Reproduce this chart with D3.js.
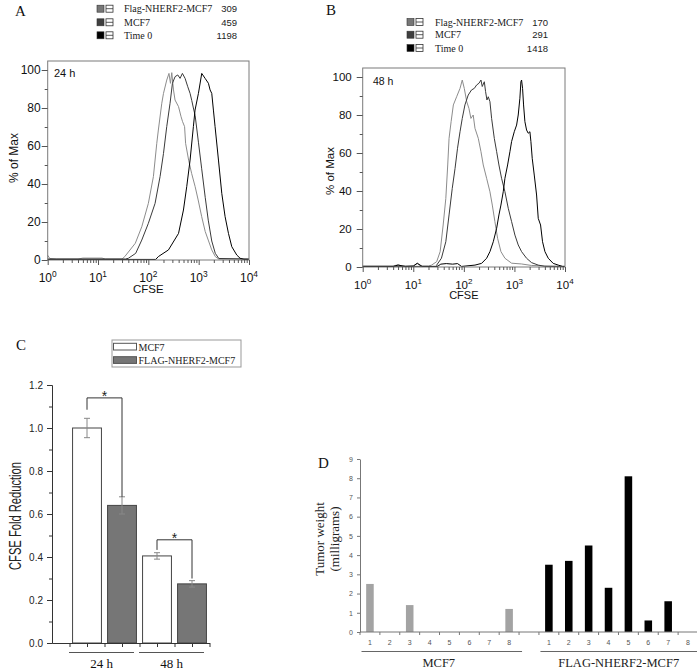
<!DOCTYPE html>
<html><head><meta charset="utf-8">
<script src="https://cdn.jsdelivr.net/npm/d3@7"></script>
<style>body{margin:0;background:#fff}svg{display:block}</style>
</head><body>
<svg id="fig" width="697" height="669"></svg>
<script>
// ---------------- DATA ----------------
const histSeries = ["Flag-NHERF2-MCF7", "MCF7", "Time 0"];
const medians24 = ["309", "459", "1198"];
const medians48 = ["170", "291", "1418"];
const decadeTicks = [1, 10, 100, 1000, 10000];
const decadeExp = ["0", "1", "2", "3", "4"];
const pctTicks = [0, 20, 40, 60, 80, 100];

// [CFSE intensity, % of Max]
const flag24 = [[1,2.5],[1.1,0.8],[1.5,0.5],[4,0.5],[5,1],[12,1],[14,0.5],[30,0.5],[34,1.8],[55,8.8],[74,17.5],[100,29.8],[126,43.9],[147,61.4],[158,68.4],[185,82.5],[200,87.7],[232,94.7],[257,98.2],[275,93],[292,98.6],[316,89.5],[339,84.2],[398,80.7],[447,75.4],[479,72.8],[525,70.2],[550,61.4],[631,52.6],[724,45.6],[851,38.6],[977,31.6],[1148,22.8],[1349,15],[1549,10.5],[1820,5.3],[2138,1.8],[2512,0.5],[10000,0.5]];
const mcf724 = [[1,0.5],[35,0.5],[40,0.9],[56,3.5],[74,10.5],[100,19.3],[136,29.8],[171,43.9],[200,56.1],[232,70.2],[270,82.5],[301,93],[340,96.5],[384,97.4],[427,95.6],[475,98.2],[537,95.6],[607,91.2],[675,87.7],[728,84],[785,80],[851,76],[989,62],[1148,48],[1349,33],[1549,21],[1820,10],[2138,3.5],[2512,0.8],[10000,0.5]];
const time024 = [[1,0.3],[140,0.3],[158,1.8],[251,5.3],[398,14],[498,26.3],[579,38.6],[675,52.6],[785,70.2],[847,78.9],[989,87.7],[1151,98.2],[1343,95.6],[1563,93],[1687,89.5],[1820,87.7],[1963,78.9],[2118,70.2],[2472,52.6],[2877,35.1],[3350,22.8],[3908,14],[4550,7],[5715,2.6],[6668,0.9],[7943,0.3],[10000,0.3]];

const flag48 = [[1,0.5],[4,0.5],[5,1.2],[6,0.5],[10,0.5],[12,1.8],[14,0.5],[20,0.5],[23,1],[29,2.8],[34,8.1],[39,22.1],[44,36.1],[48,53.7],[51,67.7],[56,76.5],[62,85.3],[72,89.6],[84,94],[93,98.4],[102,94],[114,87],[126,83.5],[138,78.2],[153,80],[166,73],[193,67.7],[218,60.7],[242,53.7],[282,46.7],[328,39.6],[365,32.6],[411,23.9],[465,15.1],[541,8.1],[649,4.6],[879,2],[1380,1.6],[2183,0.8],[10000,0.3]];
const mcf748 = [[1,0.3],[30,0.3],[29,1],[36,4.6],[44,13.3],[51,27.4],[59,41.4],[67,51.9],[75,62.5],[84,71.2],[93,78.2],[105,85.3],[122,90.5],[142,93.2],[161,94],[179,95.8],[199,96.7],[218,98.4],[231,95],[254,97.5],[269,92.3],[286,87.9],[304,89.6],[328,87],[354,78.2],[400,67.7],[445,60.7],[494,53.7],[557,46.7],[649,39.6],[755,30.9],[879,23.9],[1023,16.8],[1189,11.6],[1384,8.1],[1738,4.6],[2183,2.3],[2958,1],[3981,0.3],[10000,0.3]];
const time048 = [[1,0.3],[4,0.3],[5,1],[7,0.3],[10,0.5],[12,2],[15,0.3],[30,0.3],[35,1.5],[45,1.8],[60,1.5],[75,1.8],[90,0.3],[166,1],[224,1.9],[282,4.6],[328,8.1],[382,13.3],[445,20.4],[494,27.4],[541,32.6],[601,39.6],[649,46.7],[733,53.7],[815,60.7],[879,66],[993,71.2],[1104,74.7],[1189,80],[1282,88.8],[1343,97.5],[1384,98.4],[1449,94],[1517,85.3],[1611,76.5],[1738,72.1],[1875,70.4],[2023,71.2],[2118,66],[2249,57.2],[2466,48.4],[2742,37.9],[2958,25.6],[3289,22.1],[3597,13.3],[4009,8.1],[4667,4.6],[5848,1.9],[7345,1],[8913,0.3],[10000,0.3]];

// Panel C
const cTimes = ["24 h", "48 h"];
const cSeries = ["MCF7", "FLAG-NHERF2-MCF7"];
const cMCF7 = [1.0, 0.405];
const cMCF7Err = [0.045, 0.015];
const cFlag = [0.64, 0.275];
const cFlagErr = [0.04, 0.015];
const cYTicks = [0, 0.2, 0.4, 0.6, 0.8, 1.0, 1.2];
const cBracketTop = [1.14, 0.48];
const cBracketLeft = [1.085, 0.433];
const cBracketRight = [0.68, 0.30];

// Panel D
const dGroups = ["MCF7", "FLAG-NHERF2-MCF7"];
const dMice = ["1","2","3","4","5","6","7","8"];
const dMCF7 = [2.5, 0, 1.4, 0, 0, 0, 0, 1.2];
const dFlag = [3.5, 3.7, 4.5, 2.3, 8.1, 0.6, 1.6, 0];
const dYTicks = [0,1,2,3,4,5,6,7,8,9];

// ---------------- DRAW ----------------
const SANS = "'Liberation Sans', Arial, sans-serif";
const SERIF = "'Liberation Serif', 'Times New Roman', serif";
const svg = d3.select("#fig");
const curveColors = ["#8c8c8c", "#3a3a3a", "#000000"];
const swatchColors = ["#777777", "#3f3f3f", "#000000"];

function panelLetter(t, x, y) {
  svg.append("text").attr("x", x).attr("y", y).attr("font-family", SERIF)
    .attr("font-size", 15).attr("fill", "#111").text(t);
}

function drawHist(cfg) {
  const g = svg.append("g");
  const x = d3.scaleLog().domain([1, 10000]).range([cfg.left, cfg.right]);
  const y = d3.scaleLinear().domain([0, 100]).range([cfg.bottom, cfg.y100]);
  const line = d3.line().x(d => x(d[0])).y(d => y(d[1]));
  cfg.series.forEach((s, i) => {
    g.append("path").attr("d", line(s)).attr("fill", "none")
      .attr("stroke", curveColors[i]).attr("stroke-width", 1);
  });
  g.append("rect").attr("x", cfg.left).attr("y", cfg.top)
    .attr("width", cfg.right - cfg.left).attr("height", cfg.bottom - cfg.top)
    .attr("fill", "none").attr("stroke", "#7a7a7a").attr("stroke-width", 1);
  const minor = [];
  for (let d = 0; d < 4; d++) for (let m = 2; m <= 9; m++) minor.push(m * Math.pow(10, d));
  const styleAxis = sel => { sel.select(".domain").remove(); sel.selectAll("line").attr("stroke", "#555"); };
  g.append("g").attr("transform", `translate(0,${cfg.bottom})`)
    .call(d3.axisBottom(x).tickValues(decadeTicks).tickSize(5).tickFormat("")).call(styleAxis);
  g.append("g").attr("transform", `translate(0,${cfg.bottom})`)
    .call(d3.axisBottom(x).tickValues(minor).tickSize(3).tickFormat("")).call(styleAxis);
  decadeTicks.forEach((v, i) => {
    const t = g.append("text").attr("x", x(v)).attr("y", cfg.tickLabelY)
      .attr("text-anchor", "middle").attr("font-family", SANS).attr("font-size", cfg.fs).attr("fill", "#111");
    t.append("tspan").text("10");
    t.append("tspan").attr("dy", -5).attr("font-size", cfg.fs * 0.7).text(decadeExp[i]);
  });
  g.append("text").attr("x", (cfg.left + cfg.right) / 2).attr("y", cfg.cfseY)
    .attr("text-anchor", "middle").attr("font-family", SANS).attr("font-size", cfg.fs - 0.5).attr("fill", "#111").text("CFSE");
  g.append("g").attr("transform", `translate(${cfg.left},0)`)
    .call(d3.axisLeft(y).tickValues(pctTicks).tickSize(6).tickPadding(cfg.yPad).tickFormat(d3.format("d")))
    .call(styleAxis)
    .call(s => s.selectAll("text").attr("font-family", SANS).attr("font-size", cfg.fs).attr("fill", "#111"));
  g.append("g").attr("transform", `translate(${cfg.left},0)`)
    .call(d3.axisLeft(y).tickValues([10, 30, 50, 70, 90]).tickSize(3).tickFormat("")).call(styleAxis);
  g.append("text").attr("transform", `translate(${cfg.yLabX},${cfg.yLabY}) rotate(-90)`)
    .attr("text-anchor", "middle").attr("font-family", SANS).attr("font-size", cfg.fs).attr("fill", "#111").text("% of Max");
  g.append("text").attr("x", cfg.timeX).attr("y", cfg.timeY).attr("font-family", SANS)
    .attr("font-size", cfg.fs - 1).attr("fill", "#111").text(cfg.timeLabel);
  histSeries.forEach((name, i) => {
    const cy = cfg.legRows[i];
    g.append("rect").attr("x", cfg.sw1).attr("y", cy - 3.5).attr("width", 7).attr("height", 7)
      .attr("fill", swatchColors[i]).attr("stroke", "#333").attr("stroke-width", 0.6);
    g.append("rect").attr("x", cfg.sw1 + 9).attr("y", cy - 3.5).attr("width", 7).attr("height", 7)
      .attr("fill", "#fff").attr("stroke", "#333").attr("stroke-width", 0.8);
    g.append("line").attr("x1", cfg.sw1 + 9).attr("x2", cfg.sw1 + 16).attr("y1", cy).attr("y2", cy)
      .attr("stroke", "#333").attr("stroke-width", 0.8);
    g.append("text").attr("x", cfg.textX).attr("y", cy + 3.5).attr("font-family", SERIF)
      .attr("font-size", 10).attr("fill", "#222").text(name);
    g.append("text").attr("x", cfg.numRight).attr("y", cy + 3.5).attr("text-anchor", "end")
      .attr("font-family", SANS).attr("font-size", 9.5).attr("fill", "#222").text(cfg.medians[i]);
  });
}

panelLetter("A", 15, 16);
drawHist({left: 47.7, right: 249, top: 61, bottom: 260, y100: 70, fs: 12, yPad: 1,
  tickLabelY: 281.5, cfseY: 293, yLabX: 18, yLabY: 158, timeX: 54, timeY: 77, timeLabel: "24 h",
  series: [flag24, mcf724, time024], medians: medians24,
  sw1: 97, textX: 124, numRight: 237, legRows: [8.7, 22.3, 35.3]});

panelLetter("B", 326, 15);
drawHist({left: 362.7, right: 565, top: 68, bottom: 267, y100: 77, fs: 11.5, yPad: 5,
  tickLabelY: 288.5, cfseY: 299, yLabX: 334, yLabY: 171, timeX: 373, timeY: 85, timeLabel: "48 h",
  series: [flag48, mcf748, time048], medians: medians48,
  sw1: 407, textX: 435, numRight: 548, legRows: [22, 34.7, 48]});

// ---------- Panel C ----------
panelLetter("C", 16, 350);
{
  const g = svg.append("g");
  const x = d3.scaleLinear().domain([0, 9]).range([52, 209.5]);
  const y = d3.scaleLinear().domain([0, 1.2]).range([643, 385]);
  const barW = 1.65;
  const bars = [];
  cTimes.forEach((t, i) => {
    bars.push({pos: 2 + 4 * i, v: cMCF7[i], e: cMCF7Err[i], fill: "#ffffff"});
    bars.push({pos: 4 + 4 * i, v: cFlag[i], e: cFlagErr[i], fill: "#767676"});
  });
  bars.forEach(b => {
    g.append("rect").attr("x", x(b.pos - barW / 2)).attr("y", y(b.v))
      .attr("width", x(barW) - x(0)).attr("height", y(0) - y(b.v))
      .attr("fill", b.fill).attr("stroke", "#444").attr("stroke-width", 1);
    const cx = x(b.pos);
    g.append("line").attr("x1", cx).attr("x2", cx).attr("y1", y(b.v - b.e)).attr("y2", y(b.v + b.e)).attr("stroke", "#888");
    [b.v - b.e, b.v + b.e].forEach(v => g.append("line").attr("x1", cx - 3).attr("x2", cx + 3)
      .attr("y1", y(v)).attr("y2", y(v)).attr("stroke", "#888"));
  });
  cTimes.forEach((t, i) => {
    const x1 = x(2 + 4 * i), x2 = x(4 + 4 * i);
    g.append("path").attr("d", `M${x1},${y(cBracketLeft[i])}V${y(cBracketTop[i])}H${x2}V${y(cBracketRight[i])}`)
      .attr("fill", "none").attr("stroke", "#333").attr("stroke-width", 1);
    g.append("text").attr("x", (x1 + x2) / 2).attr("y", y(cBracketTop[i]) + 3)
      .attr("text-anchor", "middle").attr("font-family", SANS).attr("font-size", 14).attr("fill", "#222").text("*");
  });
  const styleAxis = sel => { sel.selectAll("line").attr("stroke", "#333"); sel.select(".domain").attr("stroke", "#333"); };
  g.append("g").attr("transform", "translate(52,0)")
    .call(d3.axisLeft(y).tickValues(cYTicks).tickSize(5).tickSizeOuter(0).tickPadding(4).tickFormat(d3.format(".1f")))
    .call(styleAxis)
    .call(s => s.selectAll("text").attr("font-family", SANS).attr("font-size", 10).attr("fill", "#222"));
  g.append("g").attr("transform", "translate(52,0)")
    .call(d3.axisLeft(y).tickValues([0.1, 0.3, 0.5, 0.7, 0.9, 1.1]).tickSize(3).tickSizeOuter(0).tickFormat(""))
    .call(styleAxis);
  g.append("g").attr("transform", "translate(0,643)")
    .call(d3.axisBottom(x).tickValues([1,2,3,4,5,6,7,8,9]).tickSize(4).tickSizeOuter(0).tickFormat(""))
    .call(styleAxis);
  g.append("text").attr("transform", "translate(21,516) rotate(-90)").attr("text-anchor", "middle")
    .attr("font-family", SANS).attr("font-size", 17).attr("fill", "#222")
    .attr("textLength", 108).attr("lengthAdjust", "spacingAndGlyphs").text("CFSE Fold Reduction");
  cTimes.forEach((t, i) => {
    const c = x(3 + 4 * i) - 3;
    g.append("line").attr("x1", c - 32.5).attr("x2", c + 32.5).attr("y1", 652.5).attr("y2", 652.5)
      .attr("stroke", "#555").attr("stroke-width", 1.2);
    g.append("text").attr("x", c).attr("y", 667.5).attr("text-anchor", "middle").attr("font-family", SERIF)
      .attr("font-size", 13).attr("fill", "#111").text(t);
  });
  g.append("rect").attr("x", 112).attr("y", 340).attr("width", 129).attr("height", 27)
    .attr("fill", "#fff").attr("stroke", "#999");
  g.append("rect").attr("x", 113.5).attr("y", 343.3).attr("width", 23).attr("height", 6.7)
    .attr("fill", "#fff").attr("stroke", "#555");
  g.append("rect").attr("x", 113.5).attr("y", 356.7).attr("width", 23).attr("height", 6.7)
    .attr("fill", "#767676").attr("stroke", "#555");
  g.append("text").attr("x", 138.5).attr("y", 350.5).attr("font-family", SERIF).attr("font-size", 10)
    .attr("fill", "#222").text(cSeries[0]);
  g.append("text").attr("x", 138.5).attr("y", 364).attr("font-family", SERIF).attr("font-size", 10)
    .attr("fill", "#222").text(cSeries[1]);
}

// ---------- Panel D ----------
panelLetter("D", 318, 468);
{
  const g = svg.append("g");
  const keys = [];
  dMice.forEach(m => keys.push("M" + m));
  keys.push("gap");
  dMice.forEach(m => keys.push("F" + m));
  const x = d3.scaleBand().domain(keys).range([360, 698]).padding(0);
  const y = d3.scaleLinear().domain([0, 9]).range([632, 459]);
  const bw = x.bandwidth(), barW = bw * 0.38;
  const dataBars = [];
  dMice.forEach((m, i) => {
    dataBars.push({k: "M" + m, v: dMCF7[i], fill: "#a3a3a3"});
    dataBars.push({k: "F" + m, v: dFlag[i], fill: "#000000"});
  });
  g.selectAll("rect.bar").data(dataBars.filter(d => d.v > 0)).join("rect")
    .attr("x", d => x(d.k) + (bw - barW) / 2).attr("y", d => y(d.v))
    .attr("width", barW).attr("height", d => y(0) - y(d.v)).attr("fill", d => d.fill);
  g.append("g").attr("transform", "translate(360,0)")
    .call(d3.axisLeft(y).tickValues(dYTicks).tickSize(3).tickSizeOuter(0).tickPadding(4))
    .call(s => { s.selectAll("line").attr("stroke", "#777"); s.select(".domain").attr("stroke", "#777");
      s.selectAll("text").attr("font-family", SANS).attr("font-size", 7).attr("fill", "#555"); });
  g.append("line").attr("x1", 360).attr("x2", 697).attr("y1", 632).attr("y2", 632).attr("stroke", "#777");
  const bounds = keys.map(k => x(k)).concat([x(keys[keys.length - 1]) + bw]);
  bounds.forEach(b => g.append("line").attr("x1", b).attr("x2", b).attr("y1", 632).attr("y2", 635).attr("stroke", "#777"));
  keys.forEach(k => {
    if (k === "gap") return;
    g.append("text").attr("x", x(k) + bw / 2).attr("y", 645).attr("text-anchor", "middle")
      .attr("font-family", SANS).attr("font-size", 7).attr("fill", "#555").text(k.slice(1));
  });
  [["M1", "M8"], ["F1", "F8"]].forEach((p, i) => {
    const x1 = x(p[0]) + 1.5, x2 = Math.min(697, x(p[1]) + bw + 3);
    g.append("line").attr("x1", x1).attr("x2", x2).attr("y1", 651.5).attr("y2", 651.5).attr("stroke", "#666");
    g.append("text").attr("x", (x1 + x2) / 2 - (i === 0 ? 3 : 0)).attr("y", 667).attr("text-anchor", "middle")
      .attr("font-family", SERIF).attr("font-size", 12.5).attr("fill", "#222").text(dGroups[i]);
  });
  g.append("text").attr("transform", "translate(323.5,539) rotate(-90)").attr("text-anchor", "middle")
    .attr("font-family", SERIF).attr("font-size", 13).attr("fill", "#222").text("Tumor weight");
  g.append("text").attr("transform", "translate(338.5,539) rotate(-90)").attr("text-anchor", "middle")
    .attr("font-family", SERIF).attr("font-size", 13).attr("fill", "#222").text("(milligrams)");
}
</script>
</body></html>
